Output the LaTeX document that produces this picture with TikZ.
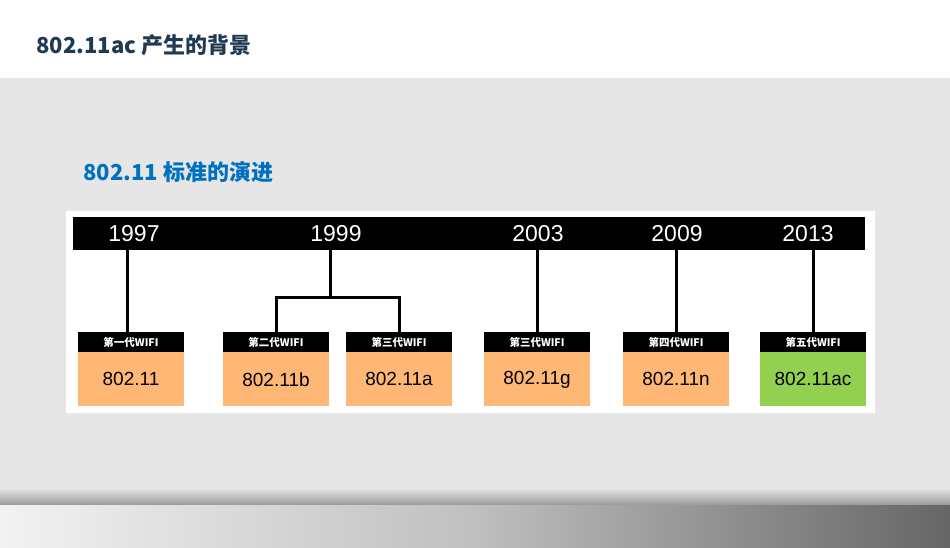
\documentclass[tikz,border=0pt]{standalone}
\usepackage{fontspec}
\setmainfont{Liberation Sans}
\newfontfamily\cjk{Noto Sans CJK SC}
\definecolor{titleNavy}{HTML}{1F3A52}
\definecolor{subBlue}{HTML}{0070C0}
\definecolor{bgGray}{HTML}{E6E6E6}
\definecolor{boxOrange}{HTML}{FFB775}
\definecolor{boxGreen}{HTML}{92D050}
\begin{document}
\begin{tikzpicture}
[x=1pt,y=-1pt,
  yearText/.style={font=\fontsize{23}{23}\selectfont,text=white},
  genLabel/.style={fill=black,text=white,minimum width=106pt,minimum height=20pt,inner sep=0pt,font=\cjk\fontsize{10.5}{11}\bfseries\selectfont},
  stdBox/.style={fill=boxOrange,minimum width=106pt,minimum height=54pt,inner sep=0pt,font=\fontsize{19}{19}\selectfont},
  linkLine/.style={line width=3pt}]
\useasboundingbox (0,0) rectangle (950,548);
%% background
\fill[white] (0,0) rectangle (950,78);
\fill[bgGray] (0,78) rectangle (950,497);
\shade[top color=bgGray,bottom color=gray!80] (0,488) rectangle (950,505);
\shade[left color=white!95!black,right color=black!60,middle color=black!25] (0,505) rectangle (950,548);
\node[anchor=west,text=titleNavy,font=\cjk\fontsize{22}{22}\bfseries\selectfont] (title) at (33,45) {802.11ac 产生的背景};
\node[anchor=west,text=subBlue,font=\cjk\fontsize{22}{22}\bfseries\selectfont] (subtitle) at (80,172) {802.11 标准的演进};
%% panel and timeline
\fill[white] (66,211) rectangle (875,413);
\fill[black] (73,217) rectangle (865,250);
\foreach \yname/\x in {1997/134, 1999/336, 2003/538, 2009/677, 2013/808}
{
  \node[yearText] (y\yname) at (\x,234) {\yname};
}
%% standards
\foreach \sname/\gen/\x/\txt/\col in {
  a/第一代/131/802.11/boxOrange,
  b/第二代/276/802.11b/boxOrange,
  c/第三代/399/802.11a/boxOrange,
  d/第三代/537/802.11g/boxOrange,
  e/第四代/676/802.11n/boxOrange,
  f/第五代/813/802.11ac/boxGreen}
{
  \node[genLabel] (g\sname) at (\x,342) {\gen WIFI};
  \node[stdBox,fill=\col,anchor=north] (s\sname) at (g\sname.south) {\txt};
}
%% links
\coordinate (split) at (330,297);
\draw[linkLine] (127,250) -- (127,250 |- ga.north);
\draw[linkLine] (330,250) -- (split);
\draw[linkLine] (gb.north) -- (gb.north |- split) -- (gc.north |- split) -- (gc.north);
\draw[linkLine] (gd.north) -- (gd.north |- 0,250);
\draw[linkLine] (ge.north) -- (ge.north |- 0,250);
\draw[linkLine] (gf.north) -- (gf.north |- 0,250);
\end{tikzpicture}
\end{document}
